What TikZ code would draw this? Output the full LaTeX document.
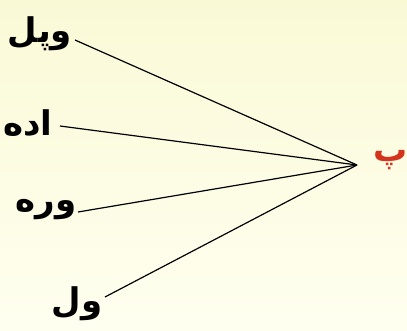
\documentclass[tikz,border=0pt]{standalone}
\usepackage{fontspec}
\TeXXeTstate=1
\newfontfamily\arabicfont[Script=Arabic]{DejaVu Sans}
\definecolor{bgtop}{RGB}{250,249,214}
\definecolor{bgbot}{RGB}{255,255,240}
\definecolor{redtxt}{RGB}{212,52,30}
\tikzset{
  lbl/.style={font=\arabicfont\bfseries\fontsize{34}{38}\selectfont, inner sep=0pt},
  conn/.style={line width=1.2pt, black}
}
\begin{document}
\begin{tikzpicture}[x=1pt,y=-1pt]
\shade[top color=bgtop, bottom color=bgbot] (0,0) rectangle (407,331);
\useasboundingbox (0,0) rectangle (407,331);
\coordinate (hub) at (357,165);
\coordinate (e1) at (75,40);
\coordinate (e2) at (60,126);
\coordinate (e3) at (78,212);
\coordinate (e4) at (105,297);
\node[lbl] (t1) at (40,34) {\beginR وپل\endR};
\node[lbl] (t2) at (28,123) {\beginR اده\endR};
\node[lbl] (t3) at (46,210) {\beginR وره\endR};
\node[lbl] (t4) at (77,304) {\beginR ول\endR};
\node[lbl, text=redtxt, anchor=west] (t5) at (373,160) {\beginR پ\endR};
\draw[conn] (e1) -- (hub);
\draw[conn] (e2) -- (hub);
\draw[conn] (e3) -- (hub);
\draw[conn] (e4) -- (hub);
\end{tikzpicture}
\end{document}
